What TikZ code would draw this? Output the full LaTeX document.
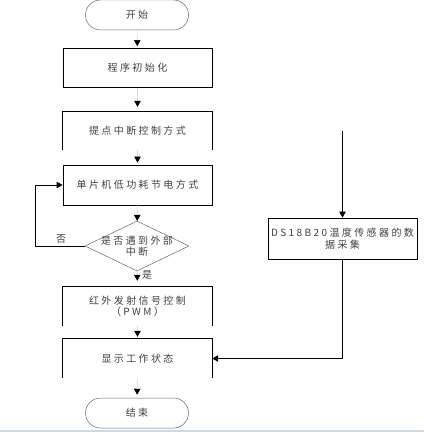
\documentclass[tikz,border=0pt]{standalone}
\usepackage{fontspec}
\setmainfont{Liberation Serif}
\newfontfamily\cjk[LetterSpace=24]{Noto Sans CJK SC}
\usetikzlibrary{shapes.geometric,shapes.misc,arrows.meta}
\begin{document}
\begin{tikzpicture}[x=1pt,y=-1pt,
  txt/.style={font=\cjk\fontsize{10}{11.5}\selectfont, text=black!75, align=center},
  boxn/.style={txt, draw=black, line width=0.8pt, minimum width=149pt, inner sep=0pt},
  openbox/.style={txt, minimum width=149pt, inner sep=0pt},
  term/.style={txt, rounded rectangle, draw=black!60, line width=0.5pt, minimum width=103pt, minimum height=30pt, inner sep=0pt},
  decision/.style={diamond, draw=black!60, line width=0.5pt, minimum width=104pt, minimum height=50pt, inner sep=0pt},
  flow/.style={draw=black!15, line width=0.6pt, -{Triangle[length=6pt,width=6.5pt,color=black]}},
  link/.style={draw=black, line width=0.8pt, -{Triangle[length=6pt,width=6.5pt]}}]
\useasboundingbox (0,0) rectangle (424,433);

\node[term] (start) at (137,15) {开始};
\node[boxn, minimum height=39pt] (b1) at (137.5,68) {程序初始化};
\node[openbox, minimum height=38pt] (b2) at (137.5,131) {提点中断控制方式};
\node[boxn, minimum height=40pt] (b3) at (137.5,185) {单片机低功耗节电方式};
\node[decision] (dia) at (137,246) {};
\node[txt] (diat) at (dia.center) {是否遇到外部\\中断};
\node[openbox, minimum height=39pt] (b5) at (137.5,306.5) {红外发射信号控制\\（PWM）};
\node[openbox, minimum height=39pt] (b6) at (137.5,358.5) {显示工作状态};
\node[term] (end) at (137,413) {结束};
\node[boxn, minimum height=41pt] (ds) at (342.5,238.5) {DS18B20温度传感器的数\\据采集};

\foreach \b in {b2,b5,b6}
  \draw[line width=0.8pt] (\b.south west) -- (\b.north west) -- (\b.north east) -- (\b.south east);

\draw[flow, shorten >=2pt] (start) -- (b1);
\draw[flow, shorten >=5pt] (b1) -- (b2);
\draw[flow, shorten >=2pt] (b2) -- (b3);
\draw[flow] (b3) -- (dia);
\draw[flow, shorten >=6pt] (dia) -- (b5);
\draw[flow, shorten >=2pt] (b5) -- (b6);
\draw[flow, shorten >=3pt] (b6) -- (end);

\coordinate (fb) at (35,246);
\draw[link] (dia.west) -- (fb) |- (b3.west);
\node[txt] (no) at (61,239) {否};
\node[txt] (yes) at (147,275) {是};

\coordinate (dsin) at (342.5,131);
\draw[link] (dsin) -- (ds);
\draw[link] (ds.south) |- (b6.east);

\draw[color={rgb,255:red,205;green,216;blue,236}, line width=2pt] (0,431) -- (424,431);
\end{tikzpicture}
\end{document}
